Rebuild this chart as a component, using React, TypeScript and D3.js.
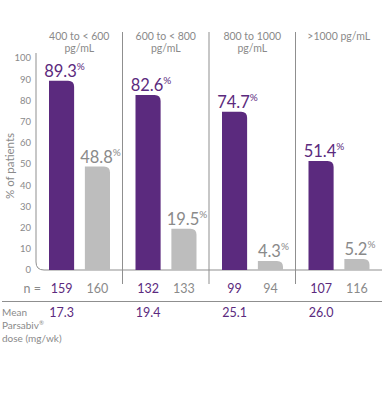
import React from 'react';
import * as d3 from 'd3';

const categories = ['400 to < 600|pg/mL', '600 to < 800|pg/mL', '800 to 1000|pg/mL', '>1000 pg/mL'];
const series = ['parsabiv', 'control'];
const parsabivPct = [89.3, 82.6, 74.7, 51.4];
const controlPct = [48.8, 19.5, 4.3, 5.2];
const parsabivN = [159, 132, 99, 107];
const controlN = [160, 133, 94, 116];
const meanDose = ['17.3', '19.4', '25.1', '26.0'];
const yTicks = [0, 10, 20, 30, 40, 50, 60, 70, 80, 90, 100];

const PURPLE = '#5B2A7E';
const GRAY_BAR = '#BDBDBD';
const TEXT_GRAY = '#8a8a8a';
const LINE_GRAY = '#8f8f8f';
const FONT = 'Lato, "DejaVu Sans", sans-serif';

// rect with only top-right corner rounded
const barPath = (x: number, y: number, w: number, h: number, r: number) => {
  const rr = Math.min(r, h, w);
  return `M${x},${y + h}V${y}H${x + w - rr}Q${x + w},${y} ${x + w},${y + rr}V${y + h}Z`;
};

export default function App() {
  const width = 384;
  const height = 407;
  const axisX = 36;
  const baseY = 270;

  const y = d3.scaleLinear().domain([0, 100]).range([baseY, 58]);
  const x0 = d3.scaleBand().domain(categories).range([axisX, 382]).paddingInner(0).paddingOuter(0);
  const x1 = d3.scaleBand().domain(series).range([13, 74]).paddingInner(0.3).paddingOuter(0);
  const bw = x1.bandwidth();

  const vals = [parsabivPct, controlPct];
  const ns = [parsabivN, controlN];
  const colors = [PURPLE, GRAY_BAR];
  const labelColors = [PURPLE, TEXT_GRAY];
  const nColors = [PURPLE, TEXT_GRAY];

  return (
    <svg width={width} height={height} style={{ position: 'absolute', left: 0, top: 0 }} fontFamily={FONT}>
      {/* y axis with rounded corner into baseline */}
      <path
        d={`M${axisX},53V${baseY - 8}Q${axisX},${baseY} ${axisX + 8},${baseY}H382`}
        fill="none"
        stroke={LINE_GRAY}
        strokeWidth={1}
      />
      {yTicks.map((t) => (
        <text key={t} x={31} y={y(t)} dy="0.35em" textAnchor="end" fontSize={9.5} fill={TEXT_GRAY}>
          {t}
        </text>
      ))}
      <text
        transform={`translate(10,${(y(0) + y(100)) / 2 + 2}) rotate(-90)`}
        textAnchor="middle"
        dy="0.35em"
        fontSize={11.5}
        fill={TEXT_GRAY}
      >
        % of patients
      </text>

      {/* group dividers */}
      {categories.slice(1).map((c) => (
        <line key={c} x1={x0(c)} x2={x0(c)} y1={32} y2={284} stroke={LINE_GRAY} strokeWidth={1} />
      ))}

      {/* category labels */}
      {categories.map((c) => {
        const cx = (x0(c) as number) + x0.bandwidth() / 2;
        const lines = c.split('|');
        return (
          <text key={c} x={cx} y={40} textAnchor="middle" fontSize={10.5} fill={TEXT_GRAY}>
            {lines.map((l, i) => (
              <tspan key={i} x={cx} dy={i === 0 ? 0 : 12}>
                {l}
              </tspan>
            ))}
          </text>
        );
      })}

      {/* bars and labels */}
      {categories.map((c, ci) => (
        <g key={c} transform={`translate(${x0(c)},0)`}>
          {series.map((s, si) => {
            const v = vals[si][ci];
            const bx = x1(s) as number;
            const top = y(v);
            return (
              <g key={s}>
                <path d={barPath(bx, top, bw, baseY - top, 6)} fill={colors[si]} />
                <text x={bx + bw / 2 + 3} y={top - 4} textAnchor="middle" fontSize={16.5} fill={labelColors[si]}>
                  {v.toFixed(1)}
                  <tspan fontSize={10} dy={-7}>%</tspan>
                </text>
                <text x={bx + bw / 2} y={293} textAnchor="middle" fontSize={12.5} fill={nColors[si]}>
                  {ns[si][ci]}
                </text>
              </g>
            );
          })}
          <text x={(x1('parsabiv') as number) + bw / 2} y={317} textAnchor="middle" fontSize={12.5} fill={PURPLE}>
            {meanDose[ci]}
          </text>
        </g>
      ))}

      <text x={41} y={293} textAnchor="end" fontSize={12.5} fill={TEXT_GRAY}>
        n =
      </text>

      <line x1={2} x2={382} y1={301.5} y2={301.5} stroke={LINE_GRAY} strokeWidth={1} />

      <text x={2} y={316} fontSize={10} fill={TEXT_GRAY}>
        <tspan x={2}>Mean</tspan>
        <tspan x={2} dy={13}>
          Parsabiv<tspan fontSize={6} dy={-4}>®</tspan>
        </tspan>
        <tspan x={2} dy={17}>dose (mg/wk)</tspan>
      </text>
    </svg>
  );
}
